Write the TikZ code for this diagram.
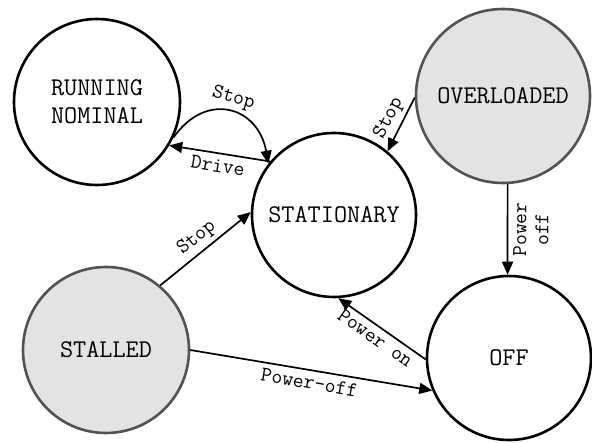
\documentclass[tikz,border=0pt]{standalone}
\usepackage{fontspec}
\usetikzlibrary{arrows.meta,shapes}

\begin{document}
\begin{tikzpicture}[x=1pt,y=1pt]
\tikzstyle{every node}+=[inner sep=0pt]
\tikzstyle{modenode}=[circle,draw=black,line width=2.6pt,fill=white,align=center,font=\ttfamily\fontsize{25.5}{28}\selectfont]
\tikzstyle{faultnode}=[modenode,draw=black!68,fill=black!11]
\tikzstyle{trans}=[line width=1.7pt,-{Triangle[length=13pt,width=11pt]}]
\tikzstyle{lbl}=[sloped,align=center,font=\ttfamily\fontsize{21}{22}\selectfont]
\useasboundingbox (0,0) rectangle (592,442);
\node[modenode,minimum size=166pt] (run) at (97,340) {RUNNING\\NOMINAL};
\node[modenode,minimum size=164pt] (stat) at (334,227) {STATIONARY};
\node[faultnode,minimum size=174pt] (over) at (503,346) {OVERLOADED};
\node[faultnode,minimum size=166pt] (stall) at (106,92) {STALLED};
\node[modenode,minimum size=164pt] (off) at (509,84) {OFF};
\draw[trans] (stat.140) -- node[lbl,below=5pt] {Drive} (run.-31);
\draw[trans] (run.-25) to[out=55,in=100,looseness=1.5] node[lbl,above=4pt] {Stop} (stat.142);
\draw[trans] (over.181) -- node[lbl,above=4pt] {Stop} (stat.50);
\draw[trans] (over.-87) -- node[lbl,below=5pt] {Power\\off} (off.91);
\draw[trans] (stall.50) -- node[lbl,above=4pt] {Stop} (stat.178);
\draw[trans] (off.181) -- node[lbl,below=4pt] {Power on} (stat.-87);
\draw[trans] (stall.0) -- node[lbl,below=5pt] {Power-off} (off.203);
\end{tikzpicture}
\end{document}
